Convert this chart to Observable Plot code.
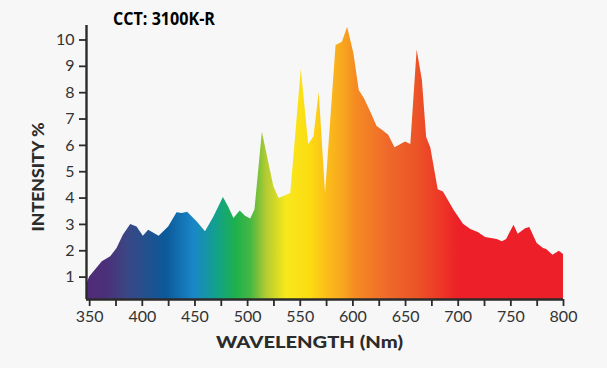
<!DOCTYPE html>
<html>
<head>
<meta charset="utf-8">
<script src="https://cdn.jsdelivr.net/npm/d3@7"></script>
<script src="https://cdn.jsdelivr.net/npm/@observablehq/plot@0.6"></script>
<style>
  html, body { margin: 0; padding: 0; background: #f7f7f7; }
  #chart { width: 607px; height: 368px; }
</style>
</head>
<body>
<div id="chart"></div>
<script>
// ---- data ----
const wavelengths = [347, 350, 362, 370, 376, 382, 389, 395, 401, 406, 416, 425, 433, 438, 443, 452, 460, 468, 477, 482, 487, 493, 498, 503, 507, 514, 525, 530, 541, 551, 558, 563, 568, 574, 584, 590, 595, 601, 606, 611, 617, 623, 628, 634, 640, 650, 655, 661, 666, 670, 674, 681, 686, 696, 705, 712, 719, 726, 737, 742, 746, 753, 757, 764, 768, 775, 781, 784, 790, 796, 800];
const intensity  = [0.7, 1.0, 1.58, 1.77, 2.09, 2.59, 3.0, 2.9, 2.55, 2.78, 2.55, 2.9, 3.44, 3.41, 3.46, 3.1, 2.72, 3.28, 4.02, 3.66, 3.22, 3.51, 3.31, 3.21, 3.56, 6.5, 4.42, 3.98, 4.17, 8.9, 6.03, 6.33, 8.02, 4.17, 9.79, 9.91, 10.48, 9.47, 8.08, 7.77, 7.26, 6.72, 6.57, 6.38, 5.91, 6.13, 6.03, 9.62, 8.46, 6.31, 5.9, 4.32, 4.23, 3.54, 3.01, 2.81, 2.69, 2.5, 2.43, 2.34, 2.43, 2.97, 2.63, 2.84, 2.88, 2.28, 2.09, 2.05, 1.83, 1.98, 1.86];

const xTicks = [350, 375, 400, 425, 450, 475, 500, 525, 550, 575, 600, 625, 650, 675, 700, 725, 750, 775, 800];
const xLabelTicks = [350, 400, 450, 500, 550, 600, 650, 700, 750, 800];
const yTicks = [1, 2, 3, 4, 5, 6, 7, 8, 9, 10];

// spectrum colour stops (wavelength -> colour)
const stopWavelengths = [347, 366, 385, 423, 449, 470, 489, 503, 518, 537, 560, 575, 590, 603, 632, 660, 686, 701, 800];
const stopColors = ["#512b77", "#4b3079", "#3b4684", "#0b5a99", "#1a86c8", "#13a08e", "#1db04c", "#45b743", "#b3cb32", "#f7e81c", "#fddb12", "#fbbe19", "#f8a81e", "#f58b22", "#ef6b2a", "#ec5527", "#ee3426", "#ed1f28", "#ed1f28"];

const title = "CCT: 3100K-R";
const xTitle = "WAVELENGTH (Nm)";
const yTitle = "INTENSITY %";

const data = wavelengths.map((w, i) => ({ wl: w, v: intensity[i] }));
const axisColor = "#2b2b2b";
const yMin = 0.15;

const plot = Plot.plot({
  width: 607,
  height: 368,
  marginLeft: 86,
  marginRight: 44,
  marginTop: 25,
  marginBottom: 69,
  style: { background: "#f7f7f7", fontFamily: "Lato", fontSize: "16px", color: "#333" },
  x: { domain: [347, 800] },
  y: { domain: [yMin, 10.55] },
  marks: [
    Plot.areaY(data, { x: "wl", y1: yMin, y2: "v", fill: "url(#spectrum)", clip: true }),
    Plot.axisX({ ticks: xTicks, tickFormat: d => xLabelTicks.includes(d) ? String(d) : "", tickSize: 7, tickPadding: 4, label: null, stroke: axisColor, strokeWidth: 1.8, fill: "#333" }),
    Plot.axisY({ ticks: yTicks, tickSize: 7, tickPadding: 5, label: null, stroke: axisColor, strokeWidth: 1.8, fill: "#333" }),
    Plot.ruleX([347], { stroke: axisColor, strokeWidth: 2.4 }),
    Plot.ruleY([yMin], { stroke: axisColor, strokeWidth: 2.4 })
  ]
});

// gradient defined through the x scale
const xs = plot.scale("x");
const x1 = xs.apply(stopWavelengths[0]);
const x2 = xs.apply(stopWavelengths[stopWavelengths.length - 1]);
const svg = d3.select(plot);
const lg = svg.insert("defs", ":first-child").append("linearGradient")
  .attr("id", "spectrum")
  .attr("gradientUnits", "userSpaceOnUse")
  .attr("x1", x1).attr("x2", x2).attr("y1", 0).attr("y2", 0);
stopWavelengths.forEach((w, i) => {
  lg.append("stop")
    .attr("offset", (xs.apply(w) - x1) / (x2 - x1))
    .attr("stop-color", stopColors[i]);
});

// titles
svg.append("text")
  .attr("x", 113).attr("y", 25)
  .attr("text-anchor", "start")
  .attr("font-family", "'Open Sans', sans-serif").attr("font-weight", 700).attr("font-size", 17)
  .attr("textLength", 102).attr("lengthAdjust", "spacingAndGlyphs")
  .attr("fill", "#000").text(title);

svg.append("text")
  .attr("x", 309.5).attr("y", 348)
  .attr("text-anchor", "middle")
  .attr("font-family", "Lato, sans-serif").attr("font-weight", 900).attr("font-size", 16.5)
  .attr("textLength", 187).attr("lengthAdjust", "spacingAndGlyphs")
  .attr("fill", "#2b2b2b").text(xTitle);

svg.append("text")
  .attr("transform", "translate(44,177) rotate(-90)")
  .attr("text-anchor", "middle")
  .attr("font-family", "Lato, sans-serif").attr("font-weight", 900).attr("font-size", 16.5)
  .attr("textLength", 109).attr("lengthAdjust", "spacingAndGlyphs")
  .attr("fill", "#2b2b2b").text(yTitle);

document.getElementById("chart").appendChild(plot);
</script>
</body>
</html>
